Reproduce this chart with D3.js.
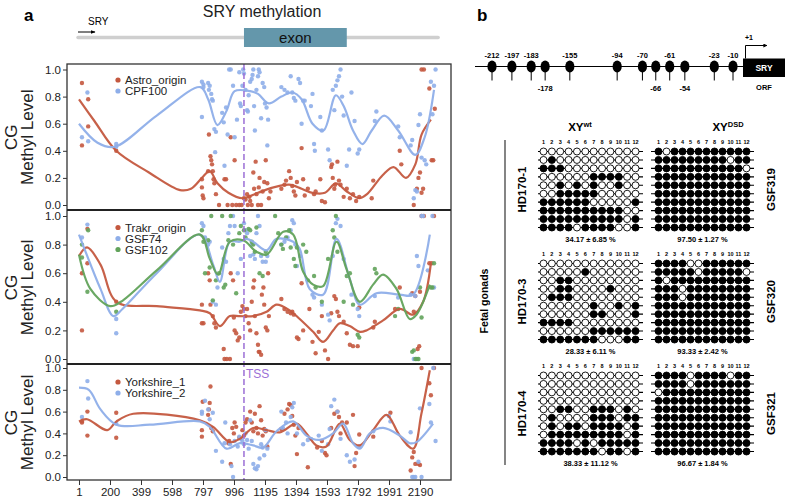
<!DOCTYPE html>
<html><head><meta charset="utf-8">
<script src="https://cdn.jsdelivr.net/npm/d3@7"></script>
<style>body{margin:0;background:#fff;} svg{display:block;font-family:"Liberation Sans",Arial,sans-serif;}</style>
</head><body><svg id="c" width="787" height="503"></svg>
<script>
// ---------------- DATA (panel a) ----------------
const xTicks = [1,200,399,598,797,996,1195,1394,1593,1792,1991,2190];
const yTicks = [0,0.2,0.4,0.6,0.8,1.0];
const tssPos = 1060;
const gene = {start:1, end:2300, exonStart:1060, exonEnd:1720};

const astroPts = [[20,0.90],[20,0.44],[60,0.78],[60,0.58],[240,0.40],[790,0.19],[790,0.13],[795,0.07],[800,0.05],[830,0.25],[835,0.52],[845,0.36],[850,0.33],[855,0.30],[860,0.25],[865,0.19],[870,0.16],[880,0.08],[900,0],[935,0.19],[945,0.19],[955,0],[975,0.50],[985,0],[1000,0.33],[1010,0],[1030,0],[1045,0],[1060,0.05],[1070,0.04],[1080,0.08],[1085,0],[1095,0.06],[1100,0.03],[1110,0],[1120,0.24],[1125,0.12],[1135,0.32],[1140,0.08],[1150,0],[1155,0.13],[1160,0.2],[1170,0],[1180,0.1],[1190,0.17],[1200,0.33],[1210,0.16],[1220,0.05],[1230,0.1],[1300,0.12],[1320,0.15],[1330,0.18],[1350,0.25],[1360,0.2],[1370,0.14],[1380,0.1],[1390,0.07],[1400,0.17],[1430,0.42],[1440,0.19],[1450,0.07],[1470,0.12],[1510,0.08],[1520,0.1],[1550,0.19],[1560,0.03],[1580,0.02],[1620,0.28],[1625,0.3],[1630,0.2],[1640,0.12],[1645,0.15],[1660,0.32],[1670,0.18],[1680,0.15],[1700,0.06],[1720,0.12],[1740,0.05],[1760,0.08],[1780,0.03],[1800,0.06],[1880,0.05],[1890,0.18],[2060,0.40],[2070,0.30],[2150,0],[2170,0.12],[2180,0.2],[2190,0.24],[2200,0.09],[2210,0.12],[2200,1.0],[2215,1.0],[2250,0.86],[2265,0.33],[2275,0.33],[2285,0.71]];
const cpf100Pts = [[20,0.50],[55,0.83],[60,0.47],[240,0.45],[240,0.43],[790,0.65],[790,0.91],[800,0.89],[800,0.87],[830,0.90],[835,0.85],[840,0.88],[850,0.82],[855,0.78],[860,0.77],[875,0.39],[870,0.56],[880,0.54],[920,0.68],[930,0.61],[935,0.29],[945,0.72],[955,0.52],[965,1.0],[975,1.0],[990,0.88],[1000,0.5],[1015,0.63],[1030,0.98],[1035,0.75],[1040,0.73],[1050,0.88],[1055,1.0],[1060,0.97],[1070,0.85],[1080,0.70],[1085,0.69],[1090,0.81],[1100,0.91],[1110,0.93],[1115,0.96],[1120,1.0],[1125,0.73],[1130,0.55],[1140,0.85],[1150,0.95],[1155,1.0],[1160,0.98],[1170,0.64],[1180,0.9],[1190,0.87],[1195,0.75],[1205,0.72],[1210,0.44],[1215,0.63],[1300,0.87],[1320,0.85],[1340,0.83],[1360,0.95],[1370,0.83],[1380,0.79],[1390,0.77],[1410,0.93],[1420,0.9],[1430,0.6],[1440,0.77],[1450,0.77],[1490,0.73],[1500,0.82],[1510,0.45],[1515,0.4],[1550,0.65],[1560,0.55],[1600,0.41],[1610,0.33],[1630,0.85],[1640,0.7],[1650,0.88],[1660,0.92],[1670,0.95],[1680,1.0],[1690,0.8],[1700,0.66],[1720,0.29],[1735,0.41],[1750,0.83],[1770,0.62],[1790,0.38],[1800,0.41],[1900,0.62],[1910,0.69],[2050,0.58],[2060,0.5],[2130,0.44],[2140,0.48],[2150,0.05],[2160,0.11],[2170,0.1],[2180,0.59],[2190,0.67],[2200,0.35],[2220,0.33],[2230,0.3],[2260,0.91],[2270,0.67],[2280,0.88],[2290,1.0]];
const astroFit = [[1,0.78],[100,0.62],[240,0.40],[450,0.24],[650,0.11],[720,0.12],[790,0.2],[840,0.25],[890,0.16],[960,0.09],[1050,0.05],[1150,0.09],[1250,0.13],[1350,0.15],[1430,0.12],[1500,0.09],[1580,0.09],[1650,0.16],[1720,0.10],[1800,0.05],[1850,0.08],[1950,0.22],[2020,0.28],[2100,0.20],[2160,0.30],[2200,0.52],[2260,0.63]];
const cpf100Fit = [[1,0.60],[120,0.46],[230,0.43],[500,0.66],[780,0.87],[830,0.78],[890,0.59],[950,0.70],[1000,0.84],[1100,0.84],[1150,0.82],[1220,0.75],[1300,0.80],[1370,0.83],[1430,0.78],[1500,0.60],[1570,0.55],[1650,0.81],[1700,0.73],[1760,0.55],[1820,0.45],[1880,0.55],[1960,0.66],[2050,0.55],[2160,0.37],[2220,0.50],[2280,0.85]];

const trakrPts = [[20,0.60],[20,0.20],[55,0.91],[55,0.67],[240,0.40],[790,0.25],[790,0.38],[800,0.25],[830,0.6],[840,0.55],[845,0.38],[860,0.3],[870,0.25],[880,0.22],[930,0.07],[935,0],[950,0],[970,0],[975,0.6],[990,0.55],[995,0.29],[1000,0.2],[1010,0.18],[1020,0.13],[1030,0.15],[1040,0.33],[1050,0.37],[1060,0.35],[1070,0.3],[1080,0.35],[1090,0.25],[1100,0.2],[1110,0.4],[1120,0.5],[1125,0.55],[1130,0.3],[1140,0.18],[1150,0.1],[1155,0.05],[1160,0.05],[1170,0.03],[1175,0.45],[1185,0.5],[1190,0.38],[1200,0.22],[1210,0.2],[1215,0.6],[1220,0.3],[1300,0.42],[1320,0.35],[1340,0.33],[1360,0.32],[1370,0.33],[1380,0.31],[1400,0.15],[1410,0.14],[1430,0.53],[1440,0.2],[1480,0.35],[1500,0.12],[1520,0.04],[1540,0.19],[1560,0.3],[1580,0.06],[1600,0],[1620,0.32],[1640,0.44],[1650,0.42],[1660,0.33],[1670,0.3],[1700,0.26],[1720,0.18],[1740,0.1],[1760,0.09],[1790,0.09],[1800,0.36],[1890,0.22],[1900,0.26],[2030,0.35],[2060,0.5],[2140,0.46],[2150,0.33],[2160,0.44],[2175,0.07],[2185,0.09],[2190,0.47],[2200,1.0],[2215,1.0],[2250,0.67],[2265,0.67],[2280,1.0]];
const gsf74Pts = [[20,0.85],[55,0.94],[240,0.18],[240,0.28],[790,0.95],[800,0.93],[810,0.85],[830,0.80],[840,0.82],[860,0.40],[880,0.38],[890,0.5],[920,0.78],[930,0.7],[945,0.68],[960,0.88],[970,0.93],[990,1.0],[1000,0.93],[1020,0.6],[1040,0.7],[1060,0.95],[1070,0.9],[1080,0.88],[1100,0.72],[1110,0.8],[1120,0.73],[1130,0.7],[1140,0.88],[1150,1.0],[1160,0.93],[1170,0.72],[1180,0.68],[1200,0.68],[1210,0.72],[1300,0.8],[1320,0.82],[1340,0.85],[1360,0.9],[1370,0.97],[1380,0.95],[1390,0.8],[1400,0.65],[1420,0.72],[1500,0.45],[1510,0.43],[1560,0.38],[1600,0.31],[1610,0.27],[1630,0.72],[1650,0.95],[1660,0.98],[1680,0.93],[1700,0.7],[1750,0.45],[1790,0.35],[1800,0.3],[1900,0.44],[2050,0.43],[2130,0.45],[2150,0],[2160,0.44],[2170,0.72],[2180,0.65],[2200,1.0],[2210,1.0],[2240,0.62],[2270,1.0],[2280,0.5]];
const gsf102Pts = [[20,0.80],[20,0.71],[55,0.47],[60,0.9],[240,0.33],[790,0.9],[800,0.82],[810,0.6],[830,0.83],[840,0.64],[850,1.0],[860,0.41],[880,0.55],[900,0.6],[920,1.0],[930,0.5],[940,0.52],[960,0.83],[975,1.0],[990,0.8],[1010,0.46],[1030,0.88],[1040,0.93],[1060,0.9],[1070,0.85],[1090,0.91],[1100,0.9],[1110,0.82],[1120,0.8],[1130,0.75],[1140,0.92],[1160,0.6],[1180,0.58],[1200,0.75],[1260,1.0],[1280,0.88],[1300,0.8],[1310,0.77],[1330,0.85],[1350,0.9],[1360,0.78],[1380,0.7],[1390,0.65],[1400,0.78],[1440,0.8],[1460,0.75],[1470,0.55],[1510,0.58],[1520,0.5],[1560,0.4],[1600,0.7],[1630,0.9],[1640,0.85],[1650,1.0],[1660,0.75],[1700,0.4],[1720,0.58],[1740,0.6],[1760,0.38],[1790,0.17],[1800,0.15],[1900,0.63],[1910,0.6],[2030,0.3],[2050,0.35],[2140,0.05],[2150,0.06],[2160,0],[2170,0],[2180,0],[2190,0.5],[2200,0.29],[2260,0.5],[2270,0.5],[2280,0.67]];
const trakrFit = [[1,0.72],[53,0.78],[139,0.66],[242,0.40],[500,0.37],[777,0.34],[841,0.32],[905,0.23],[969,0.30],[1033,0.30],[1119,0.30],[1205,0.33],[1269,0.38],[1354,0.34],[1418,0.28],[1504,0.19],[1568,0.12],[1632,0.20],[1675,0.25],[1739,0.23],[1804,0.19],[1846,0.20],[1953,0.27],[2060,0.35],[2146,0.31],[2210,0.40],[2260,0.67]];
const gsf74Fit = [[1,0.87],[139,0.49],[222,0.30],[280,0.35],[500,0.60],[777,0.87],[862,0.66],[905,0.54],[969,0.82],[1033,0.82],[1076,0.84],[1119,0.82],[1205,0.76],[1269,0.84],[1376,0.82],[1418,0.77],[1482,0.49],[1568,0.45],[1654,0.84],[1739,0.56],[1804,0.38],[1910,0.46],[2060,0.45],[2146,0.45],[2253,0.87]];
const gsf102Fit = [[1,0.73],[74,0.49],[200,0.37],[270,0.40],[500,0.62],[777,0.87],[841,0.70],[894,0.59],[969,0.82],[1055,0.83],[1140,0.75],[1205,0.73],[1312,0.89],[1376,0.87],[1440,0.61],[1504,0.52],[1568,0.51],[1654,0.82],[1718,0.63],[1804,0.40],[1889,0.52],[1953,0.59],[2039,0.49],[2124,0.28],[2167,0.31],[2253,0.52]];

const york1Pts = [[20,0.51],[20,0.50],[55,0.38],[55,0.60],[240,0.36],[240,0.59],[790,0.37],[790,0.43],[795,0.69],[830,0.57],[835,0.62],[840,0.68],[845,0.83],[850,0.45],[860,0.42],[960,0.31],[965,0.33],[975,0.12],[985,0.45],[995,0.40],[1000,0.5],[1010,0.46],[1030,0.36],[1050,0.43],[1060,0.38],[1070,0.5],[1080,0.53],[1100,0.6],[1110,0.5],[1120,0.42],[1130,0.58],[1140,0.45],[1150,0.4],[1160,0.65],[1170,0.52],[1180,0.38],[1190,0.44],[1200,0.42],[1210,0.28],[1300,0.44],[1320,0.58],[1340,0.62],[1350,0.67],[1360,0.66],[1370,0.56],[1380,0.48],[1390,0.38],[1400,0.21],[1410,0.45],[1470,0.09],[1530,0.27],[1560,0.33],[1580,0.22],[1590,0.2],[1620,0.45],[1640,0.58],[1660,0.6],[1670,0.55],[1680,0.4],[1690,0.5],[1720,0.5],[1760,0.57],[1770,0.1],[1780,0.22],[1800,0.39],[1890,0.37],[2000,0.59],[2130,0.06],[2140,0.18],[2150,0.23],[2160,0.12],[2180,0.12],[2190,0.11],[2200,1.0],[2250,0.86],[2260,0.75],[2280,1.0]];
const york2Pts = [[20,0.55],[55,0.88],[60,0.72],[240,0.49],[790,0.58],[790,0.6],[810,0.7],[830,0.62],[840,0.53],[860,0.59],[880,0.24],[920,0.14],[935,0.31],[940,0.5],[970,0.3],[980,0.1],[990,0.0],[1000,0.33],[1020,0.28],[1030,0.37],[1040,0.35],[1050,0.33],[1060,0.3],[1070,0.4],[1080,0.34],[1090,0.26],[1100,0.52],[1110,0.33],[1120,0.12],[1130,0.08],[1140,0.07],[1150,0.1],[1160,0.17],[1170,0.3],[1180,0.27],[1190,0.2],[1200,0.43],[1210,0.26],[1300,0.6],[1310,0.45],[1330,0.5],[1340,0.4],[1360,0.55],[1370,0.64],[1380,0.68],[1400,0.4],[1440,0.3],[1470,0.34],[1490,0.35],[1540,0.38],[1560,0.24],[1600,0.3],[1610,0.44],[1620,0.65],[1640,0.71],[1660,0.6],[1680,0.35],[1720,0.2],[1740,0.14],[1770,0.16],[1800,0.28],[1890,0.42],[1990,0.56],[2000,0.51],[2130,0.41],[2140,0],[2150,0],[2160,0],[2180,0.14],[2190,0.63],[2200,0],[2250,0.67],[2260,0.5],[2275,1.0],[2290,0.33]];
const york1Fit = [[1,0.51],[53,0.53],[182,0.43],[242,0.51],[349,0.58],[777,0.52],[862,0.46],[969,0.32],[1033,0.35],[1119,0.45],[1205,0.43],[1290,0.41],[1397,0.49],[1461,0.40],[1525,0.29],[1589,0.28],[1675,0.49],[1739,0.34],[1804,0.29],[1889,0.43],[1975,0.57],[2060,0.38],[2146,0.26],[2199,0.58],[2253,0.98]];
const york2Fit = [[1,0.82],[64,0.80],[139,0.62],[242,0.48],[456,0.48],[777,0.51],[841,0.46],[948,0.26],[1033,0.31],[1119,0.29],[1183,0.27],[1269,0.42],[1376,0.51],[1461,0.38],[1547,0.34],[1632,0.40],[1696,0.49],[1760,0.31],[1804,0.26],[1868,0.40],[1953,0.45],[2060,0.38],[2124,0.31],[2167,0.32],[2274,0.49]];

// ---------------- DATA (panel b) ----------------
const cpgSites = [-212,-197,-183,-178,-155,-94,-70,-66,-61,-54,-23,-10];
const cpgBelow = [-178,-66,-54];
const colNums = [1,2,3,4,5,6,7,8,9,10,11,12];
const blockNames = ["HD170-1","HD170-3","HD170-4"];
const gsfNames = ["GSF319","GSF320","GSF321"];
const wtPercent = ["34.17 \u00b1 6.85 %","28.33 \u00b1 6.11 %","38.33 \u00b1 11.12 %"];
const dsdPercent = ["97.50 \u00b1 1.27 %","93.33 \u00b1 2.42 %","96.67 \u00b1 1.84 %"];
const wt1 = ["000000000000","010000000000","111000000000","000000111100","001010100100","001111100000","111111000001","111111111100","111111111101","111101111001"];
const dsd1 = ["101111111111","111111111011","111111111110","111111111111","111111111111","111111111111","111111111111","111111111111","111111111111","111111111111"];
const wt2 = ["000000000000","000001000000","001100000000","001100001000","011100000000","000000100101","000000110001","111100000000","000000111111","111111100011"];
const dsd2 = ["111100111111","111110111110","101111111111","111011111111","111011111111","111111111111","111111111111","111111111111","111111111111","111111111111"];
const wt3 = ["000000000000","000000000000","000000000000","000000000000","001100111010","010000111011","010110111101","011111111101","111101011111","111111101101"];
const dsd3 = ["111101111011","111101111111","011111111111","111111111111","111111111111","111111111111","111111111111","111111111111","111111111111","111111111111"];

// ---------------- DRAW ----------------
const svg = d3.select("#c");
const RED="#c4583f", BLUE="#8eaee9", GREEN="#62a35b", PURPLE="#9b6fd6";
const x = d3.scaleLinear().domain([-76,2389]).range([67,451]);
const panels = [
  {y:d3.scaleLinear().domain([0,1]).range([205,69.5]),
   series:[{pts:astroPts,fit:astroFit,c:RED,name:"Astro_origin"},{pts:cpf100Pts,fit:cpf100Fit,c:BLUE,name:"CPF100"}],legY:80},
  {y:d3.scaleLinear().domain([0,1]).range([359,216]),
   series:[{pts:trakrPts,fit:trakrFit,c:RED,name:"Trakr_origin"},{pts:gsf74Pts,fit:gsf74Fit,c:BLUE,name:"GSF74"},{pts:gsf102Pts,fit:gsf102Fit,c:GREEN,name:"GSF102"}],legY:227.5},
  {y:d3.scaleLinear().domain([0,1]).range([477,368]),
   series:[{pts:york1Pts,fit:york1Fit,c:RED,name:"Yorkshire_1"},{pts:york2Pts,fit:york2Fit,c:BLUE,name:"Yorkshire_2"}],legY:382}
];

svg.append("text").attr("x",24).attr("y",21).attr("font-size",17).attr("font-weight","bold").text("a");
svg.append("text").attr("x",262).attr("y",17).attr("text-anchor","middle").attr("font-size",16).attr("fill","#222").text("SRY methylation");
svg.append("line").attr("x1",x(gene.start)-1).attr("x2",x(gene.end)+1).attr("y1",37.5).attr("y2",37.5).attr("stroke","#cfcfcf").attr("stroke-width",3.5).attr("stroke-linecap","round");
svg.append("rect").attr("x",x(gene.exonStart)).attr("y",28).attr("width",x(gene.exonEnd)-x(gene.exonStart)).attr("height",19).attr("fill","#6497ab");
svg.append("text").attr("x",(x(gene.exonStart)+x(gene.exonEnd))/2).attr("y",43).attr("text-anchor","middle").attr("font-size",15).attr("fill","#111").text("exon");
svg.append("text").attr("x",88).attr("y",25).attr("font-size",10).text("SRY");
svg.append("defs").html('<marker id="ah" viewBox="0 0 10 10" refX="9" refY="5" markerWidth="5" markerHeight="5" orient="auto"><path d="M0,1L10,5L0,9z" fill="#000"/></marker><marker id="ah2" viewBox="0 0 10 10" refX="9" refY="5" markerWidth="4" markerHeight="4" orient="auto"><path d="M0,0L10,5L0,10z" fill="#000"/></marker>');
svg.append("line").attr("x1",78).attr("x2",95).attr("y1",32).attr("y2",32).attr("stroke","#000").attr("stroke-width",1).attr("marker-end","url(#ah)");

const line = d3.line().x(d=>x(d[0])).curve(d3.curveCatmullRom.alpha(0.5));

panels.forEach((p,i)=>{
  const g = svg.append("g");
  p.series.forEach(s=>{
    g.append("g").selectAll("circle").data(s.pts).join("circle")
      .attr("cx",d=>x(d[0])).attr("cy",d=>p.y(d[1])).attr("r",2.2)
      .attr("fill",s.c).attr("opacity",0.9);
  });
  p.series.forEach(s=>{
    g.append("path").datum(s.fit).attr("d",line.y(d=>p.y(d[1]))).attr("fill","none")
      .attr("stroke",s.c).attr("stroke-width",2.2).attr("opacity",0.95);
  });
  const ax = g.append("g").attr("transform","translate(67,0)")
    .call(d3.axisLeft(p.y).tickValues(yTicks).tickFormat(d3.format(".1f")).tickSize(4).tickPadding(2));
  ax.select(".domain").remove();
  ax.selectAll("text").attr("font-size",11.5).attr("font-family","Liberation Sans, Arial, sans-serif").attr("fill","#222");
  ax.selectAll("line").attr("stroke","#333");
  const cy=(p.y.range()[0]+p.y.range()[1])/2;
  g.append("text").attr("transform",`translate(17,${cy}) rotate(-90)`).attr("text-anchor","middle").attr("font-size",17).attr("fill","#222").text("CG");
  g.append("text").attr("transform",`translate(33,${cy}) rotate(-90)`).attr("text-anchor","middle").attr("font-size",17).attr("fill","#222").text("Methyl Level");
  p.series.forEach((s,j)=>{
    g.append("circle").attr("cx",118).attr("cy",p.legY+j*11).attr("r",2.6).attr("fill",s.c);
    g.append("text").attr("x",125).attr("y",p.legY+j*11+4).attr("font-size",11.5).attr("fill","#222").text(s.name);
  });
});
svg.append("line").attr("x1",x(tssPos)).attr("x2",x(tssPos)).attr("y1",64).attr("y2",480)
  .attr("stroke",PURPLE).attr("stroke-width",1.5).attr("stroke-dasharray","6,3");
svg.append("text").attr("x",x(tssPos)+2).attr("y",378).attr("font-size",12).attr("fill",PURPLE).text("TSS");
svg.append("rect").attr("x",67).attr("y",64).attr("width",384).attr("height",416).attr("fill","none").attr("stroke","#333").attr("stroke-width",1.3);
[210,364].forEach(yy=>svg.append("line").attr("x1",67).attr("x2",451).attr("y1",yy).attr("y2",yy).attr("stroke","#222").attr("stroke-width",1.8));
const xa = svg.append("g").attr("transform","translate(0,480)").call(d3.axisBottom(x).tickValues(xTicks).tickFormat(d3.format("d")).tickSize(5).tickPadding(3));
xa.select(".domain").remove();
xa.selectAll("text").attr("font-size",11.5).attr("font-family","Liberation Sans, Arial, sans-serif").attr("fill","#222");
xa.selectAll("line").attr("stroke","#333");

// ---------------- panel b ----------------
svg.append("text").attr("x",477).attr("y",21).attr("font-size",17).attr("font-weight","bold").text("b");
const cLin = d3.scaleLinear().domain([-212,-10]).range([492,733]);
const cOrd = d3.scalePoint().domain(cpgSites).range([492,733]);
const cx = d => (cLin(d)+cOrd(d))/2;
const mapY = 66.5;
svg.append("line").attr("x1",475).attr("x2",745).attr("y1",mapY).attr("y2",mapY).attr("stroke","#000").attr("stroke-width",1);
const sites = svg.append("g").selectAll("g").data(cpgSites).join("g").attr("transform",d=>`translate(${cx(d)},${mapY})`);
sites.append("line").attr("y1",0).attr("y2",14).attr("stroke","#000").attr("stroke-width",1);
sites.append("ellipse").attr("rx",4.6).attr("ry",6).attr("fill","#000");
sites.append("text").attr("y",d=>cpgBelow.includes(d)?24:-9).attr("text-anchor","middle").attr("font-size",7.5).attr("font-weight","bold").text(d=>d);
svg.append("rect").attr("x",743).attr("y",58.5).attr("width",42).attr("height",18.5).attr("fill","#000");
svg.append("text").attr("x",764).attr("y",71).attr("text-anchor","middle").attr("font-size",8.5).attr("font-weight","bold").attr("fill","#fff").text("SRY");
svg.append("text").attr("x",764).attr("y",90).attr("text-anchor","middle").attr("font-size",7.5).attr("font-weight","bold").text("ORF");
svg.append("text").attr("x",745).attr("y",40).attr("font-size",7).attr("font-weight","bold").text("+1");
svg.append("path").attr("d","M745.5,58.5V45.5H767").attr("fill","none").attr("stroke","#000").attr("stroke-width",1).attr("marker-end","url(#ah2)");

function xyTitle(xc,sup){
  const t=svg.append("text").attr("x",xc).attr("y",131).attr("text-anchor","middle").attr("font-weight","bold").attr("font-size",11.5);
  t.append("tspan").text("XY");
  t.append("tspan").attr("font-size",7.5).attr("dy",-4).text(sup);
}
xyTitle(580,"wt"); xyTitle(728,"DSD");

const blocks = [[wt1,dsd1],[wt2,dsd2],[wt3,dsd3]];
const blockTop = [151.5,263.5,375.5];
const colL = d3.scalePoint().domain(colNums).range([543.5,635.5]);
const colR = d3.scalePoint().domain(colNums).range([658.5,746.5]);
const rowIdx = d3.range(10);
blocks.forEach((bk,bi)=>{
  const rowY = d3.scalePoint().domain(rowIdx).range([blockTop[bi],blockTop[bi]+76]);
  [[bk[0],colL,538,643,wtPercent[bi]],[bk[1],colR,651,754,dsdPercent[bi]]].forEach(([rows,cs,x1,x2,pct])=>{
    const g=svg.append("g");
    g.selectAll("text.n").data(colNums).join("text").attr("class","n").attr("x",d=>cs(d)).attr("y",blockTop[bi]-8)
      .attr("text-anchor","middle").attr("font-size",5.5).attr("font-weight","bold").text(d=>d);
    rows.forEach((r,ri)=>{
      const yy=rowY(ri);
      g.append("line").attr("x1",x1).attr("x2",x2).attr("y1",yy).attr("y2",yy).attr("stroke","#000").attr("stroke-width",1.1);
      g.append("g").selectAll("circle").data(r.split("")).join("circle")
        .attr("cx",(d,k)=>cs(k+1)).attr("cy",yy).attr("r",3.5)
        .attr("fill",d=>d==="1"?"#000":"#fff").attr("stroke","#000").attr("stroke-width",0.9);
    });
    g.append("text").attr("x",(x1+x2)/2).attr("y",blockTop[bi]+90).attr("text-anchor","middle").attr("font-size",7.5).attr("font-weight","bold").text(pct);
  });
  const mid=blockTop[bi]+38;
  svg.append("text").attr("transform",`translate(526,${mid}) rotate(-90)`).attr("text-anchor","middle").attr("font-size",11.5).attr("font-weight","bold").text(blockNames[bi]);
  svg.append("text").attr("transform",`translate(775,${mid}) rotate(-90)`).attr("text-anchor","middle").attr("font-size",11.5).attr("font-weight","bold").text(gsfNames[bi]);
});
svg.append("line").attr("x1",505).attr("x2",505).attr("y1",140).attr("y2",465).attr("stroke","#333").attr("stroke-width",1.2);
svg.append("text").attr("transform","translate(488,301) rotate(-90)").attr("text-anchor","middle").attr("font-size",10.5).attr("font-weight","bold").text("Fetal gonads");
</script></body></html>
